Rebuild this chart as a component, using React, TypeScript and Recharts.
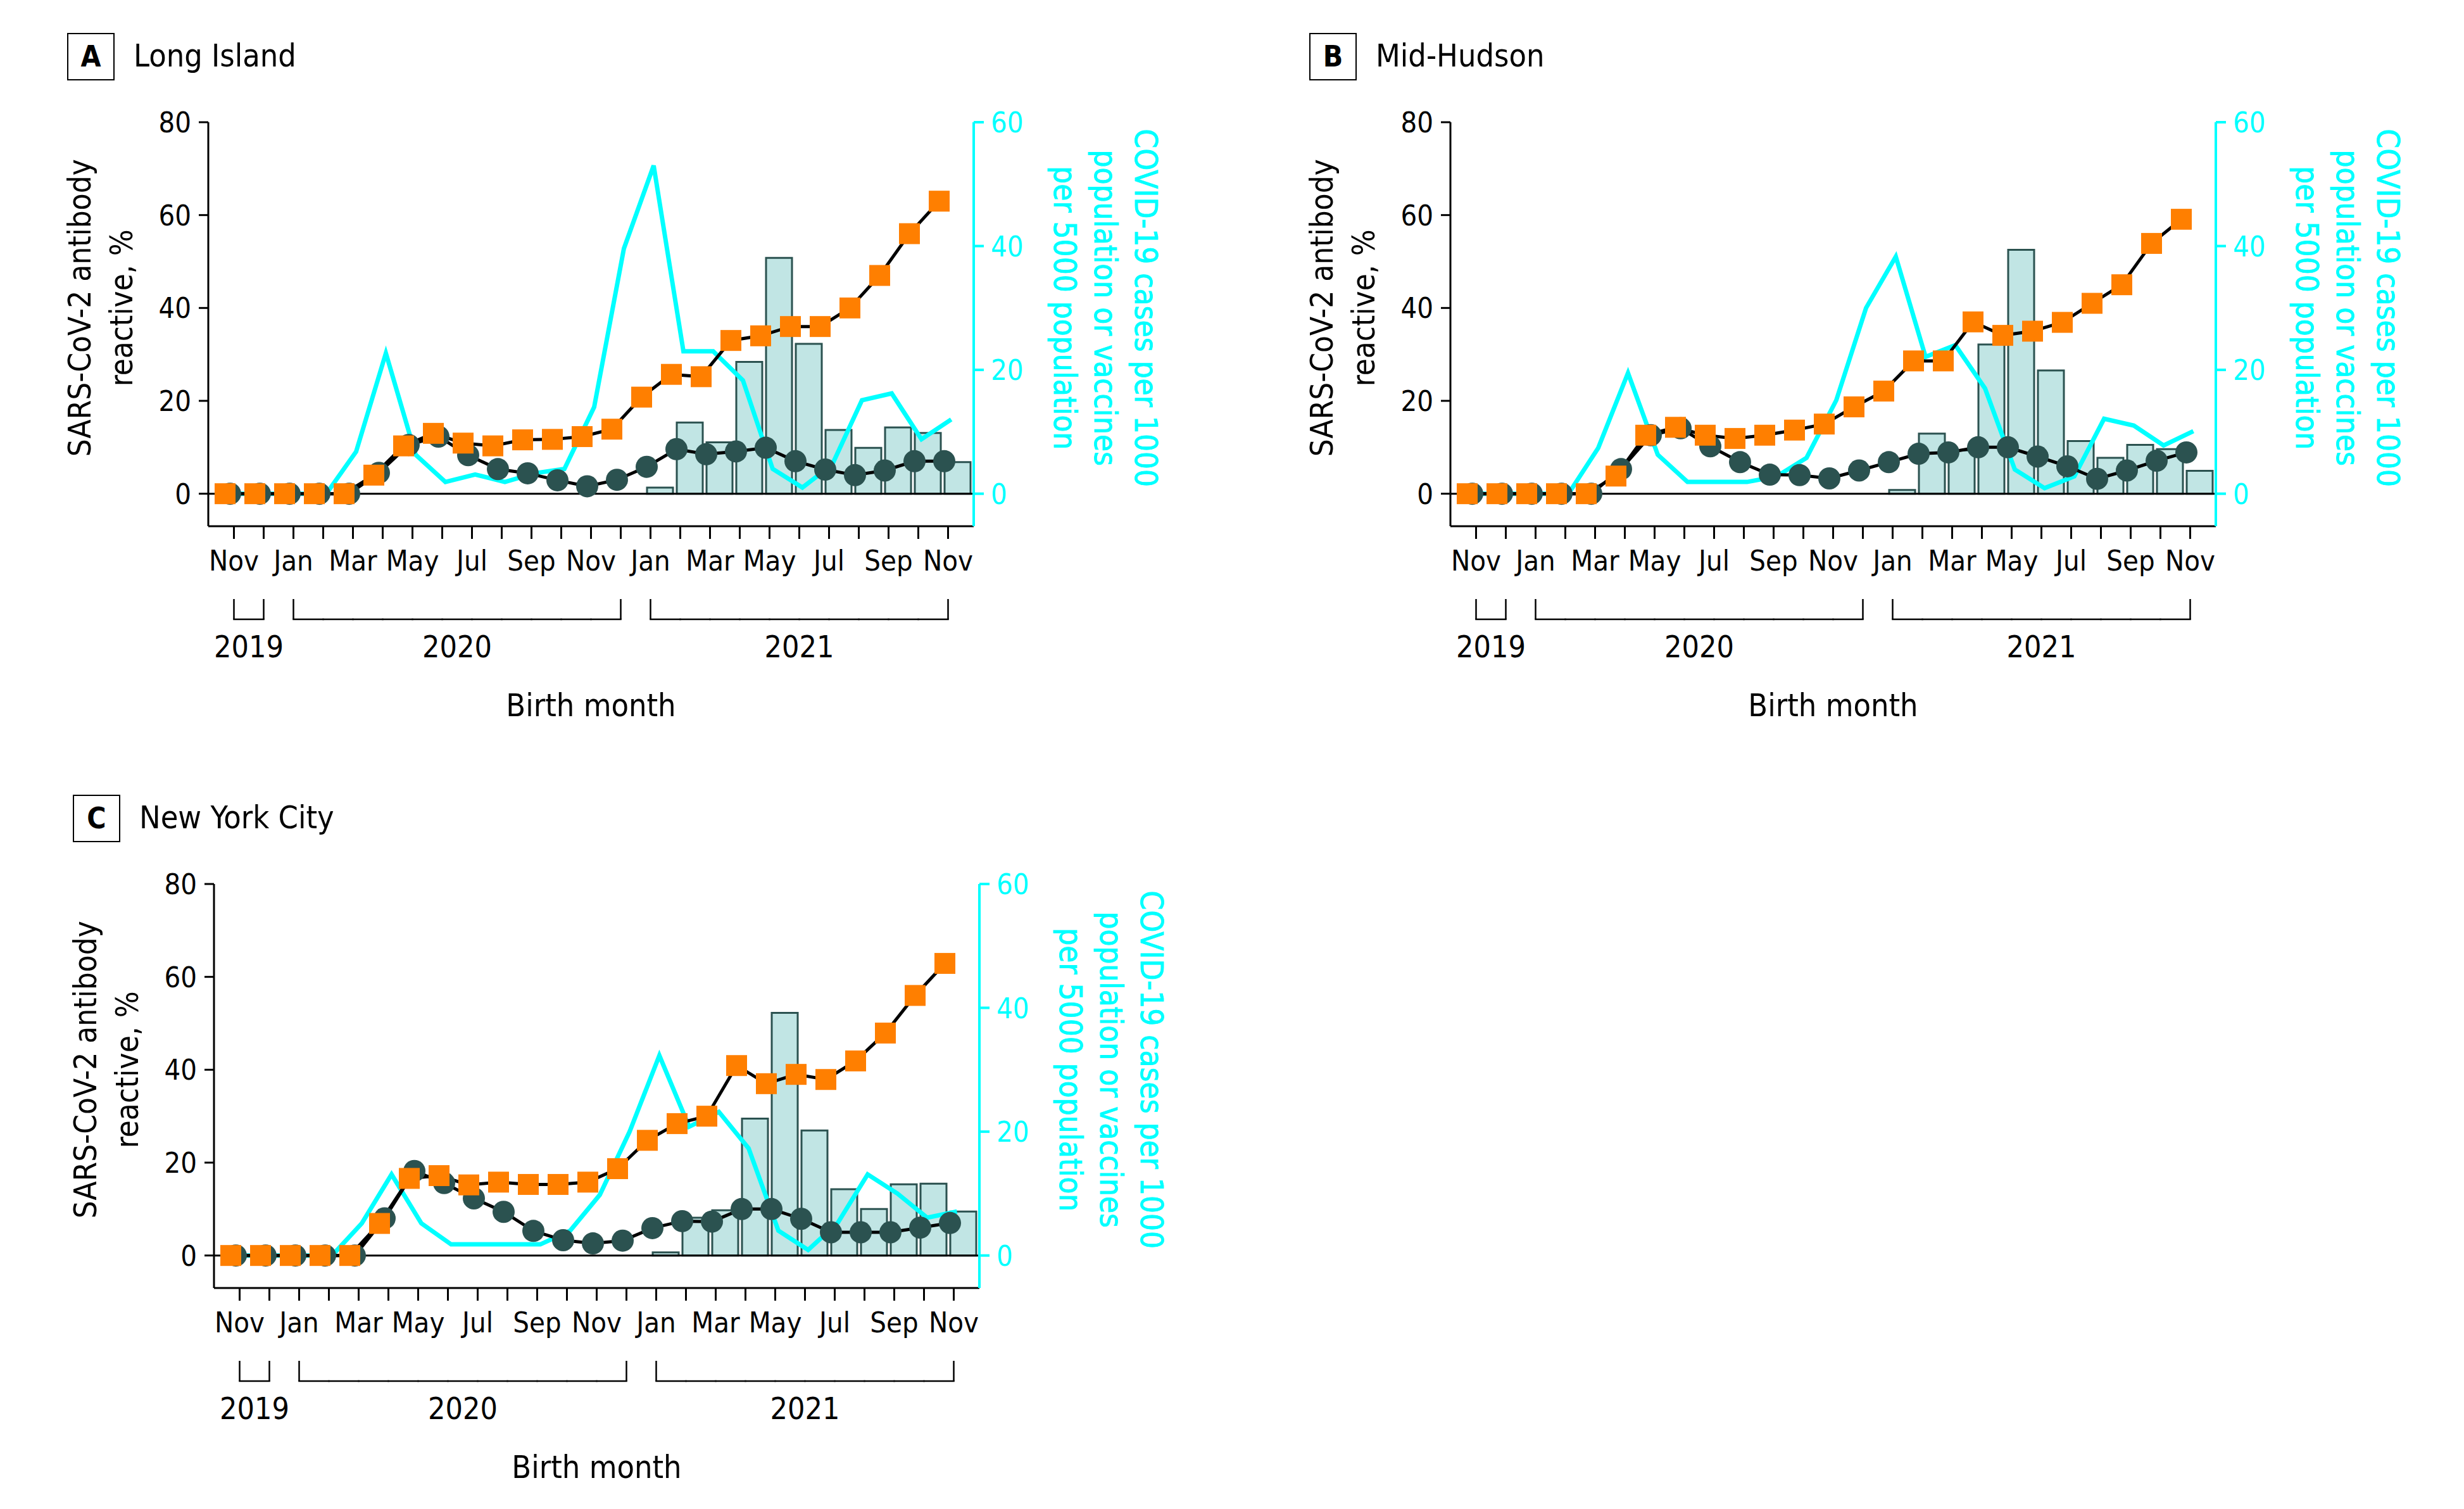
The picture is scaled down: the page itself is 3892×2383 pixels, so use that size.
import React from "react";
import { ComposedChart, Bar, Line, XAxis, YAxis, ReferenceLine } from "recharts";

const FONT = "'DejaVu Sans Condensed', 'Liberation Sans Narrow', 'DejaVu Sans', sans-serif";
const CYAN = "#00FFFF";
const ORANGE = "#FF7F00";
const SLATE = "#2B5250";
const BAR_FILL = "#C1E5E4";

// birth months, Nov 2019 .. Nov 2021
const monthKeys = [
  "Nov 2019", "Dec 2019",
  "Jan 2020", "Feb 2020", "Mar 2020", "Apr 2020", "May 2020", "Jun 2020",
  "Jul 2020", "Aug 2020", "Sep 2020", "Oct 2020", "Nov 2020", "Dec 2020",
  "Jan 2021", "Feb 2021", "Mar 2021", "Apr 2021", "May 2021", "Jun 2021",
  "Jul 2021", "Aug 2021", "Sep 2021", "Oct 2021", "Nov 2021",
];
const monthLabels = monthKeys.map((k) => k.split(" ")[0]);
const birthYears = monthKeys.map((k) => Number(k.split(" ")[1]));
// bars only exist Jan 2021 .. Nov 2021
const vaccineStart = monthKeys.indexOf("Jan 2021");

// A - Long Island
const liDots = [0, 0, 0, 0, 0, 4.5, 10.5, 12.3, 8.3, 5.3, 4.4, 2.9, 1.6, 3.0, 5.8, 9.6, 8.5, 9.1, 9.9, 7.0, 5.2, 4.0, 5.0, 7.0, 7.0];
const liSquares = [0, 0, 0, 0, 0, 4.0, 10.3, 13.0, 10.9, 10.3, 11.6, 11.7, 12.3, 13.9, 20.8, 25.7, 25.2, 33.0, 34.0, 36.0, 36.0, 40.0, 47.0, 56.0, 63.0];
const liCases = [0, 0, 0, 0, 6.8, 22.7, 6.3, 1.9, 3.1, 1.9, 3.3, 4.0, 14.0, 39.6, 53.0, 23.0, 23.0, 18.3, 4.0, 1.0, 4.7, 15.1, 16.2, 8.8, 12.0];
const liVaccines = [1.0, 11.5, 8.3, 21.3, 38.1, 24.2, 10.3, 7.4, 10.7, 9.8, 5.1];

// B - Mid-Hudson
const mhDots = [0, 0, 0, 0, 0, 5.3, 12.6, 14.1, 10.2, 6.8, 4.1, 4.0, 3.3, 5.0, 6.8, 8.6, 8.9, 10.0, 10.0, 8.0, 5.9, 3.2, 5.0, 7.1, 8.9];
const mhSquares = [0, 0, 0, 0, 0, 3.8, 12.6, 14.3, 12.6, 11.9, 12.6, 13.7, 15.0, 18.7, 22.1, 28.6, 28.6, 37.0, 34.1, 35.0, 36.9, 41.0, 45.0, 53.9, 59.1];
const mhCases = [0, 0, 0, 0, 7.4, 19.5, 6.3, 1.9, 1.9, 1.9, 2.8, 5.8, 15.1, 30.0, 38.3, 22.1, 24.0, 17.0, 3.9, 0.9, 2.8, 12.1, 11.0, 7.8, 10.1];
const mhVaccines = [0.6, 9.7, 7.0, 24.1, 39.4, 19.9, 8.5, 5.8, 7.9, 7.2, 3.7];

// C - New York City
const nycDots = [0, 0, 0, 0, 0, 8.0, 18.2, 15.6, 12.3, 9.4, 5.3, 3.3, 2.6, 3.2, 5.9, 7.4, 7.3, 10.0, 10.0, 7.9, 5.0, 5.0, 5.0, 6.0, 7.0];
const nycSquares = [0, 0, 0, 0, 0, 6.9, 16.6, 17.2, 15.2, 15.8, 15.3, 15.3, 15.8, 18.7, 24.8, 28.4, 30.0, 40.9, 37.0, 39.0, 37.9, 41.9, 47.9, 56.0, 62.9];
const nycCases = [0, 0, 0, 0, 5.2, 13.1, 5.2, 1.8, 1.8, 1.8, 1.8, 4.0, 9.8, 20.0, 32.3, 20.8, 23.2, 17.3, 4.0, 0.9, 5.3, 13.1, 10.0, 6.1, 7.1];
const nycVaccines = [0.5, 6.1, 7.3, 22.1, 39.2, 20.2, 10.7, 7.5, 11.5, 11.6, 7.1];

const leftTicks = [0, 20, 40, 60, 80];
const rightTicks = [0, 20, 40, 60];

const CHART_W = 1900;
const CHART_H = 1160;
const AXIS_L = 329;
const AXIS_R = 362;
const PLOT_W = CHART_W - AXIS_L - AXIS_R;
const PAD = 17;
const STEP = (PLOT_W - 2 * PAD) / monthKeys.length;
const LEFT_MIN = -7;
const LEFT_MAX = 80;
const RIGHT_MIN = -5.25;
const RIGHT_MAX = 60;

function YearTick(props: any) {
  const { x, y } = props;
  const i = props.index ?? props.payload?.index ?? 0;
  const yr = birthYears[i];
  const first = i === 0 || birthYears[i - 1] !== yr;
  const last = i === birthYears.length - 1 || birthYears[i + 1] !== yr;
  const count = birthYears.filter((v) => v === yr).length;
  const top = y + 15;
  const base = y + 47;
  return (
    <g>
      {(first || last) && <line x1={x} x2={x} y1={top} y2={base} stroke="#000" strokeWidth={2.5} />}
      {!last && <line x1={x} x2={x + STEP} y1={base} y2={base} stroke="#000" strokeWidth={2.5} strokeLinecap="square" />}
      {first && (
        <text x={x + ((count - 1) * STEP) / 2} y={y + 107} textAnchor="middle" fontSize={48} fontFamily={FONT} fill="#000">
          {yr}
        </text>
      )}
    </g>
  );
}

const birthLabel = (props: any) => {
  const vb = props.viewBox || {};
  return (
    <text x={vb.x + vb.width / 2} y={vb.y + 200} textAnchor="middle" fontSize={50} fontFamily={FONT} fill="#000">
      Birth month
    </text>
  );
};

const leftTitle = (props: any) => {
  const vb = props.viewBox || {};
  const cy = vb.y + (vb.height * (LEFT_MAX - 40)) / (LEFT_MAX - LEFT_MIN);
  const ax = vb.x + vb.width;
  const lines = ["SARS-CoV-2 antibody", "reactive, %"];
  return (
    <g>
      {lines.map((t, k) => {
        const bx = ax - 186 + k * 66;
        return (
          <text key={t} x={bx} y={cy} transform={`rotate(-90, ${bx}, ${cy})`} textAnchor="middle" fontSize={49} fontFamily={FONT} fill="#000">
            {t}
          </text>
        );
      })}
    </g>
  );
};

const rightTitle = (props: any) => {
  const vb = props.viewBox || {};
  const cy = vb.y + (vb.height * (RIGHT_MAX - 30)) / (RIGHT_MAX - RIGHT_MIN);
  const ax = vb.x;
  const lines = ["COVID-19 cases per 1000", "population or vaccines", "per 5000 population"];
  return (
    <g>
      {lines.map((t, k) => {
        const bx = ax + 255 - k * 64;
        return (
          <text
            key={t}
            x={bx}
            y={cy}
            transform={`rotate(90, ${bx}, ${cy})`}
            textAnchor="middle"
            fontSize={49}
            fontFamily={FONT}
            fill={CYAN}
            stroke={CYAN}
            strokeWidth={0.8}
          >
            {t}
          </text>
        );
      })}
    </g>
  );
};

const squareDot = (p: any) => {
  if (p.cx == null || p.cy == null) return <g key={`sq-${p.index}`} />;
  return <rect key={`sq-${p.index}`} x={p.cx - 16.5} y={p.cy - 16.5} width={33} height={33} fill={ORANGE} />;
};

interface PanelProps {
  letter: string;
  name: string;
  left: number;
  top: number;
  dots: number[];
  squares: number[];
  cases: number[];
  vaccines: number[];
}

function Panel({ letter, name, left, top, dots, squares, cases, vaccines }: PanelProps) {
  const rows = monthKeys.map((key, i) => ({
    key,
    dots: dots[i],
    squares: squares[i],
    cases: cases[i],
    vaccines: i >= vaccineStart ? vaccines[i - vaccineStart] : null,
  }));

  return (
    <div style={{ position: "absolute", left, top, width: CHART_W, height: CHART_H }}>
      <div
        style={{
          position: "absolute",
          left: 106,
          top: 52,
          width: 75,
          height: 75,
          boxSizing: "border-box",
          border: "2.5px solid #000",
          fontFamily: FONT,
          fontWeight: "bold",
          fontSize: 46,
          lineHeight: "70px",
          textAlign: "center",
        }}
      >
        {letter}
      </div>
      <div style={{ position: "absolute", left: 211, top: 63, fontFamily: FONT, fontSize: 50, lineHeight: "50px", whiteSpace: "nowrap" }}>
        {name}
      </div>
      <div style={{ position: "absolute", left: 0, top: 0 }}>
        <ComposedChart width={CHART_W} height={CHART_H} data={rows} margin={{ top: 193, right: 0, bottom: 0, left: 0 }} style={{ fontFamily: FONT }}>
          <XAxis
            xAxisId="m"
            dataKey="key"
            height={100}
            interval={0}
            padding={{ left: PAD, right: PAD }}
            tickSize={20}
            tickMargin={18}
            stroke="#000"
            strokeWidth={3}
            tick={{ fontSize: 45, fill: "#000", fontFamily: FONT }}
            tickFormatter={(_v: string, i: number) => (i % 2 === 0 ? monthLabels[i] : "")}
          />
          <XAxis
            xAxisId="y"
            dataKey="key"
            height={229}
            interval={0}
            padding={{ left: PAD, right: PAD }}
            axisLine={false}
            tickLine={false}
            tickSize={0}
            tickMargin={0}
            tick={<YearTick />}
            label={birthLabel}
          />
          <XAxis xAxisId="cyan" dataKey="key" hide height={0} padding={{ left: PAD + 5, right: PAD - 5 }} />
          <XAxis xAxisId="dots" dataKey="key" hide height={0} padding={{ left: PAD - 6, right: PAD + 6 }} />
          <XAxis xAxisId="sq" dataKey="key" hide height={0} padding={{ left: PAD - 14, right: PAD + 14 }} />
          <XAxis xAxisId="bars" dataKey="key" hide height={0} padding={{ left: PAD + 15, right: PAD - 15 }} />
          <YAxis
            yAxisId="left"
            width={AXIS_L}
            domain={[LEFT_MIN, LEFT_MAX]}
            ticks={leftTicks}
            allowDataOverflow
            tickSize={15}
            tickMargin={12}
            stroke="#000"
            strokeWidth={3}
            tick={{ fontSize: 45, fill: "#000", fontFamily: FONT }}
            label={leftTitle}
          />
          <YAxis
            yAxisId="right"
            orientation="right"
            width={AXIS_R}
            domain={[RIGHT_MIN, RIGHT_MAX]}
            ticks={rightTicks}
            allowDataOverflow
            tickSize={16}
            tickMargin={11}
            stroke={CYAN}
            strokeWidth={4}
            tick={{ fontSize: 45, fill: CYAN, fontFamily: FONT }}
            label={rightTitle}
          />
          <Bar
            xAxisId="bars"
            yAxisId="right"
            dataKey="vaccines"
            barSize={41}
            fill={BAR_FILL}
            stroke={SLATE}
            strokeWidth={3}
            isAnimationActive={false}
          />
          <ReferenceLine xAxisId="m" yAxisId="left" y={0} stroke="#000" strokeWidth={3} />
          <Line
            xAxisId="cyan"
            yAxisId="right"
            dataKey="cases"
            stroke={CYAN}
            strokeWidth={7}
            dot={false}
            strokeLinejoin="miter"
            isAnimationActive={false}
          />
          <Line
            xAxisId="dots"
            yAxisId="left"
            dataKey="dots"
            stroke="#000"
            strokeWidth={5}
            dot={{ r: 17.5, fill: SLATE, stroke: "none" }}
            isAnimationActive={false}
          />
          <Line
            xAxisId="sq"
            yAxisId="left"
            dataKey="squares"
            stroke="#000"
            strokeWidth={5}
            dot={squareDot}
            isAnimationActive={false}
          />
        </ComposedChart>
      </div>
    </div>
  );
}

export default function App() {
  return (
    <div style={{ position: "absolute", left: 0, top: 0, width: 3892, height: 2383, background: "#fff" }}>
      <Panel letter="A" name="Long Island" left={0} top={0} dots={liDots} squares={liSquares} cases={liCases} vaccines={liVaccines} />
      <Panel letter="B" name="Mid-Hudson" left={1962} top={0} dots={mhDots} squares={mhSquares} cases={mhCases} vaccines={mhVaccines} />
      <Panel letter="C" name="New York City" left={9} top={1203} dots={nycDots} squares={nycSquares} cases={nycCases} vaccines={nycVaccines} />
    </div>
  );
}
